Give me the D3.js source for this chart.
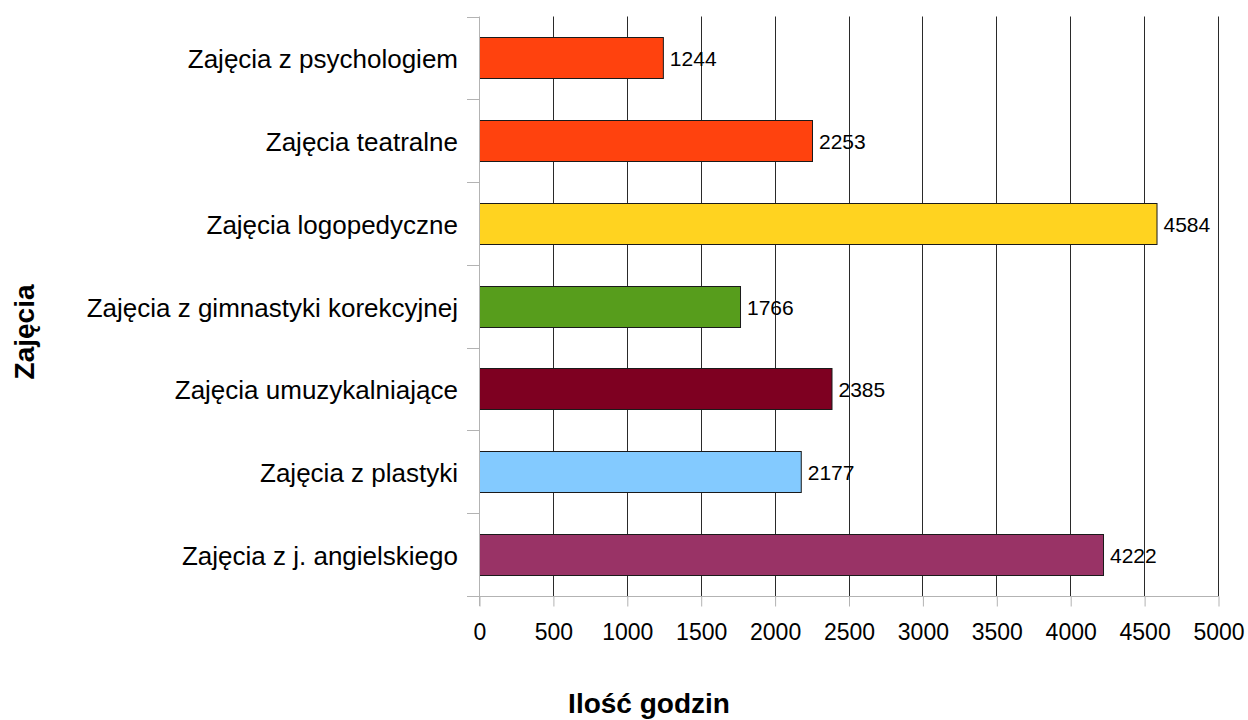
<!DOCTYPE html>
<html><head><meta charset="utf-8">
<script src="https://cdn.jsdelivr.net/npm/d3@7"></script>
<style>
html,body{margin:0;padding:0;background:#fff;}
svg{display:block;font-family:"Liberation Sans",Arial,sans-serif;}
</style></head>
<body><svg id="chart" width="1248" height="720"></svg>
<script>
const categories = ["Zajęcia z psychologiem","Zajęcia teatralne","Zajęcia logopedyczne","Zajęcia z gimnastyki korekcyjnej","Zajęcia umuzykalniające","Zajęcia z plastyki","Zajęcia z j. angielskiego"];
const values = [1244, 2253, 4584, 1766, 2385, 2177, 4222];
const colors = ["#ff420e","#ff420e","#ffd320","#579d1c","#7e0021","#83caff","#993366"];
const xTicks = [0,500,1000,1500,2000,2500,3000,3500,4000,4500,5000];
const xTitle = "Ilość godzin";
const yTitle = "Zajęcia";

(function(){
const svg = d3.select("#chart");
const pL = 479, pR = 1218, pT = 16.5, pB = 596;
const x = d3.scaleLinear().domain([0,5000]).range([pL,pR]);
const y = d3.scaleBand().domain(categories).range([pT,pB]).paddingInner(0.5).paddingOuter(0.25);
const yb = d3.scaleBand().domain(categories).range([pT,pB]);

// gridlines
svg.append("g").selectAll("line").data(xTicks.slice(1)).join("line")
  .attr("x1",d=>Math.round(x(d))+0.5).attr("x2",d=>Math.round(x(d))+0.5).attr("y1",pT).attr("y2",pB)
  .attr("stroke","#2a2a2a").attr("stroke-width",1);

// bars
svg.append("g").selectAll("rect").data(values).join("rect")
  .attr("x",pL+0.5).attr("y",(d,i)=>Math.round(y(categories[i]))+0.5)
  .attr("width",d=>x(d)-pL).attr("height",Math.round(y.bandwidth()))
  .attr("fill",(d,i)=>colors[i]).attr("stroke","#1a1a1a").attr("stroke-width",1);

// value labels
svg.append("g").selectAll("text").data(values).join("text")
  .attr("x",d=>x(d)+7).attr("y",(d,i)=>y(categories[i])+y.bandwidth()/2+1)
  .attr("dy","0.35em").attr("font-size",21).attr("fill","#000").text(d=>d);

// x axis
const ax = d3.axisBottom(x).tickValues(xTicks).tickSize(10).tickPadding(17).tickFormat(d3.format("d"));
const gx = svg.append("g").attr("transform",`translate(0.5,${pB+0.5})`).call(ax);
gx.select(".domain").remove();
gx.selectAll(".tick line").attr("stroke","#b3b3b3");
gx.selectAll(".tick text").attr("font-size",23).attr("fill","#000").attr("font-family","Liberation Sans, Arial, sans-serif");
svg.append("line").attr("x1",pL-12).attr("x2",pR+1).attr("y1",pB+0.5).attr("y2",pB+0.5).attr("stroke","#b3b3b3");

// y axis
svg.append("line").attr("x1",pL+0.5).attr("x2",pL+0.5).attr("y1",pT).attr("y2",pB+10).attr("stroke","#b3b3b3");
const bounds = categories.map(c=>yb(c));
svg.append("g").selectAll("line").data(bounds).join("line")
  .attr("x1",pL-12).attr("x2",pL).attr("y1",d=>Math.round(d)+0.5).attr("y2",d=>Math.round(d)+0.5).attr("stroke","#b3b3b3");
svg.append("g").selectAll("text").data(categories).join("text")
  .attr("x",pL-21).attr("y",d=>yb(d)+yb.bandwidth()/2+1.3)
  .attr("dy","0.35em").attr("text-anchor","end").attr("font-size",26).attr("fill","#000").text(d=>d);

// titles
svg.append("text").attr("x",649).attr("y",713).attr("text-anchor","middle")
  .attr("font-size",28).attr("font-weight","bold").text(xTitle);
svg.append("text").attr("transform",`translate(34,332) rotate(-90)`).attr("text-anchor","middle")
  .attr("font-size",28).attr("font-weight","bold").text(yTitle);
})();
</script></body></html>
